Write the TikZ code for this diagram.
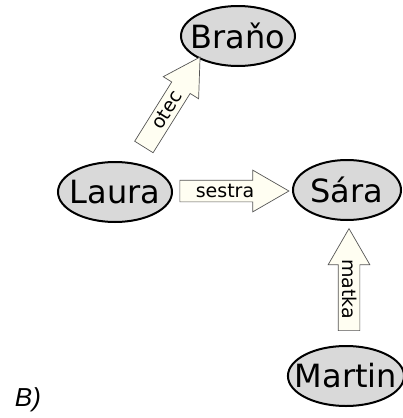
\documentclass[tikz,border=0pt]{standalone}
\usepackage{fontspec}
\setmainfont{DejaVu Sans}
\newfontfamily\capfont{Liberation Sans}
\usepackage{xcolor}
\definecolor{Col1}{RGB}{217,217,217}
\definecolor{Col2}{RGB}{255,254,242}
\definecolor{Col3}{RGB}{85,85,85}
\usepackage{tikz}
\usetikzlibrary{shapes.geometric}
\usetikzlibrary{shapes.arrows}
\tikzstyle{Person}=[ellipse,draw=black,fill=Col1,line width=2pt,
inner sep=-10pt,minimum height=60pt,font=\fontsize{32}{32}\selectfont]
\tikzstyle{Relation}=[single arrow,draw=Col3,fill=Col2,line width=0.7pt,
single arrow head extend=10pt,single arrow tip angle=60,inner ysep=3pt,
inner xsep=2pt,text height=14pt,text depth=1pt,
font=\fontsize{19}{19}\selectfont]
\tikzstyle{Label}=[font=\capfont\itshape\fontsize{26}{26}\selectfont]
\begin{document}
\begin{tikzpicture}[x=1pt,y=-1pt]
        \useasboundingbox(0,0)rectangle(402,418);
        \node[Person,minimum width=114pt](brano)at(238,36){Braňo};
        \node[Person,minimum width=114pt](laura)at(115,192){Laura};
        \node[Person,minimum width=108pt](sara)at(347,190){Sára};
        \node[Person,minimum width=106pt](martin)at(346,376){Martin};
        \node[Relation,minimum height=109pt](sestra)at(225,191){sestra};
        \node[Relation,minimum height=106pt,rotate=58](otec)
            at(167,110){otec};
        \node[Relation,minimum height=102pt,rotate=-90,
            shape border rotate=180](matka)at(349,289){matka};
        \node[Label](b)at(28,400){B)};
    \end{tikzpicture}
\end{document}
